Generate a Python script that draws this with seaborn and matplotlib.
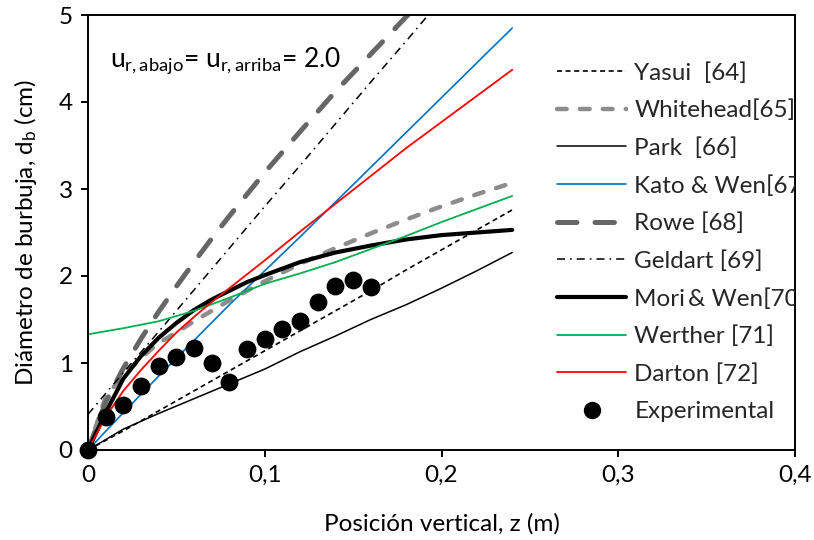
import matplotlib
matplotlib.use("Agg")
import matplotlib.pyplot as plt
import seaborn as sns
import pandas as pd

# Bubble diameter vs. height above the distributor: correlations and experiment
z_fine = [0, 0.01, 0.02, 0.03, 0.04, 0.05, 0.06, 0.07, 0.08, 0.09, 0.10,
          0.12, 0.14, 0.16, 0.18, 0.20, 0.22, 0.24]
z_coarse = [0, 0.02, 0.04, 0.06, 0.08, 0.10, 0.12, 0.14, 0.16, 0.18, 0.20, 0.22, 0.24]

yasui = [0, 0.22, 0.45, 0.68, 0.91, 1.14, 1.37, 1.60, 1.83, 2.07, 2.30, 2.53, 2.76]
whitehead = [0, 0.61, 0.86, 1.06, 1.23, 1.35, 1.48, 1.60, 1.72, 1.83, 1.94,
             2.14, 2.32, 2.49, 2.65, 2.80, 2.94, 3.07]
park = [0, 0.24, 0.42, 0.59, 0.76, 0.93, 1.13, 1.31, 1.50, 1.67, 1.86, 2.06, 2.27]
kato_wen = [0, 0.43, 0.85, 1.26, 1.67, 2.06, 2.45, 2.85, 3.25, 3.65, 4.05, 4.45, 4.85]
rowe = [0, 0.55, 0.94, 1.28, 1.59, 1.88, 2.16, 2.43, 2.69, 2.94, 3.19,
        3.66, 4.12, 4.55, 4.98, 5.39, 5.80, 6.19]
geldart = [0.41, 0.89, 1.36, 1.84, 2.32, 2.80, 3.27, 3.75, 4.23, 4.70, 5.18, 5.66, 6.13]
mori_wen = [0, 0.43, 0.82, 1.08, 1.29, 1.46, 1.61, 1.73, 1.83, 1.93, 2.01,
            2.16, 2.27, 2.35, 2.42, 2.47, 2.50, 2.53]
werther = [1.33, 1.40, 1.48, 1.60, 1.75, 1.91, 2.03, 2.16, 2.31, 2.46, 2.62, 2.77, 2.92]
darton = [0, 0.38, 0.68, 0.92, 1.14, 1.35, 1.53, 1.70, 1.86, 2.02, 2.18,
          2.51, 2.83, 3.15, 3.47, 3.77, 4.07, 4.37]

z_exp = [0, 0.01, 0.02, 0.03, 0.04, 0.05, 0.06, 0.07, 0.08, 0.09, 0.10,
         0.11, 0.12, 0.13, 0.14, 0.15, 0.16]
d_exp = [0, 0.38, 0.52, 0.74, 0.96, 1.07, 1.17, 1.00, 0.78, 1.16, 1.28,
         1.39, 1.48, 1.70, 1.88, 1.95, 1.87]

x_ticks = [0, 0.1, 0.2, 0.3, 0.4]
x_ticklabels = ["0", "0,1", "0,2", "0,3", "0,4"]
y_ticks = [0, 1, 2, 3, 4, 5]

sns.set_theme(style="ticks")
FONT = "Lato"
plt.rcParams["font.family"] = [FONT, "DejaVu Sans"]
plt.rcParams["mathtext.fontset"] = "custom"
plt.rcParams["mathtext.rm"] = FONT
plt.rcParams["mathtext.it"] = FONT
plt.rcParams["lines.scale_dashes"] = False
FS = 17.5
LEG_FS = 17.5

fig = plt.figure(figsize=(8.14, 5.40), dpi=100)
ax = fig.add_axes([88 / 814, 1 - 450 / 540, (795 - 88) / 814, (450 - 15) / 540])

series = [
    ("Yasui  [64]", z_coarse, yasui, dict(color="black", lw=1.2, ls=(0, (3.6, 2.6)))),
    ("Whitehead[65]", z_fine, whitehead, dict(color="#8c8c8c", lw=3.2, ls=(0, (7.0, 9.5)), cap="round")),
    ("Park  [66]", z_coarse, park, dict(color="black", lw=1.1, ls="-")),
    ("Kato & Wen[67]", z_coarse, kato_wen, dict(color="#0070c0", lw=1.2, ls="-")),
    ("Rowe [68]", z_fine, rowe, dict(color="#666666", lw=3.6, ls=(0, (14.0, 13.0)), cap="round")),
    ("Geldart [69]", z_coarse, geldart, dict(color="black", lw=1.1, ls=(0, (5.8, 3.6, 1.2, 3.6)))),
    ("Mori\u2009& Wen[70]", z_fine, mori_wen, dict(color="black", lw=3.0, ls="-")),
    ("Werther [71]", z_coarse, werther, dict(color="#00b050", lw=1.3, ls="-")),
    ("Darton [72]", z_fine, darton, dict(color="#ff0000", lw=1.3, ls="-")),
]

handles = []
for label, zz, dd, st in series:
    df = pd.DataFrame({"z": zz, "d": dd})
    sns.lineplot(data=df, x="z", y="d", ax=ax, estimator=None, sort=False,
                 color=st["color"], linewidth=st["lw"], label=label, legend=False)
    line = ax.lines[-1]
    line.set_linestyle(st["ls"])
    line.set_dash_capstyle(st.get("cap", "butt"))
    line.set_solid_capstyle("round")
    handles.append(line)

exp_df = pd.DataFrame({"z": z_exp, "d": d_exp})
sns.scatterplot(data=exp_df, x="z", y="d", ax=ax, color="black", s=165,
                edgecolor="black", linewidth=0, zorder=10, clip_on=False,
                label="Experimental", legend=False)
exp_handle = plt.Line2D([], [], ls="none", marker="o", color="black", markersize=11.5)
handles.append(exp_handle)
labels = [s[0] for s in series] + ["Experimental"]

ax.set_xlim(0, 0.4)
ax.set_ylim(0, 5)
ax.set_xticks(x_ticks)
ax.set_xticklabels(x_ticklabels)
ax.set_yticks(y_ticks)
ax.tick_params(axis="both", direction="out", length=5, width=1.4,
               labelsize=FS, colors="black", pad=6)
for sp in ax.spines.values():
    sp.set_visible(True)
    sp.set_linewidth(1.4)
    sp.set_color("black")

ax.set_xlabel("Posición vertical, z (m)", fontsize=FS, color="black", labelpad=19)
ax.set_ylabel(r"Diámetro de burbuja, d$_\mathregular{b}$ (cm)", fontsize=FS,
              color="black", labelpad=14)

ax.text(0.0124, 4.41,
        r"u$_\mathregular{r,abajo}$= u$_\mathregular{r,arriba}$= 2.0",
        fontsize=FS + 1.5, color="black", va="baseline", ha="left")

leg = ax.legend(handles, labels, loc="upper left",
                bbox_to_anchor=((557 - 88) / 707, (450 - 62) / 435),
                frameon=False, fontsize=LEG_FS, handlelength=2.85,
                handletextpad=0.33, labelspacing=0.66, borderpad=0,
                borderaxespad=0)
for t in leg.get_texts():
    t.set_clip_box(ax.bbox)
    t.set_clip_on(True)

fig.savefig("out.png", dpi=100)
